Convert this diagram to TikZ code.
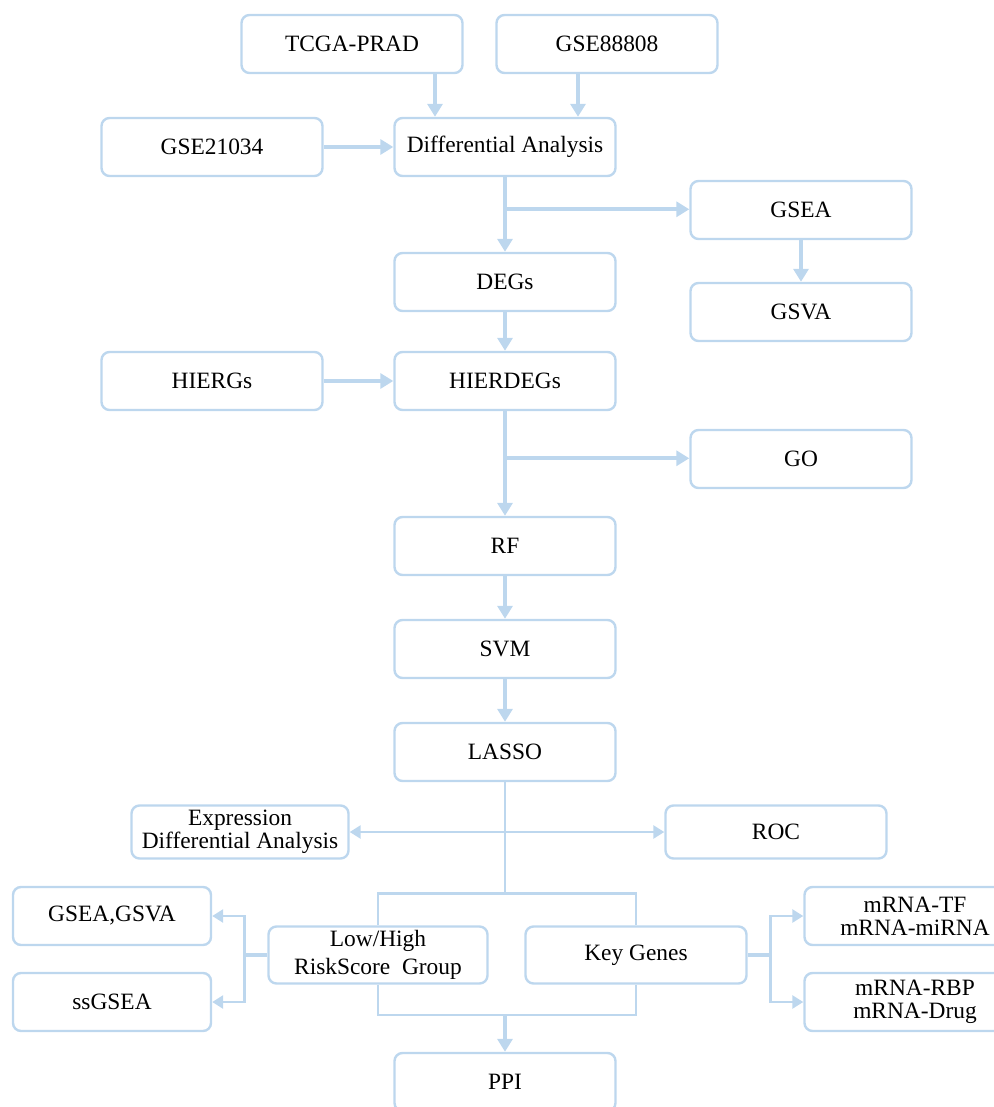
\documentclass[tikz,border=0pt]{standalone}
\usepackage{fontspec}
\setmainfont{Liberation Serif}
\usetikzlibrary{arrows.meta,positioning,calc}
\definecolor{flowblue}{RGB}{189,215,238}
\tikzstyle{block} = [rectangle, draw=flowblue, line width=1.2pt, fill=white, rounded corners=4pt, align=center, minimum width=110.5pt, minimum height=29pt, inner sep=1pt, font=\fontsize{11.7}{11.5}\selectfont]
\tikzstyle{arr} = [draw=flowblue, line width=2pt, -{Triangle[length=6.5pt,width=7.5pt]}]
\tikzstyle{thinarr} = [draw=flowblue, line width=1.3pt, -{Triangle[length=5.5pt,width=6.5pt]}]
\tikzstyle{link} = [draw=flowblue, line width=1.3pt]

\begin{document}
\begin{tikzpicture}[x=0.5pt, y=-0.5pt, >=Triangle]
    \useasboundingbox (0,0) rectangle (994,1107);
    % inputs
    \node[block] (tcga) at (352,44) {TCGA-PRAD};
    \node[block] (gseB) at (607,44) {GSE88808};
    \node[block] (gseA) at (212,147) {GSE21034};
    \node[block] (diff) at (505,147) {Differential Analysis};
    % enrichment
    \node[block] (gsea) at (801,210) {GSEA};
    \node[block] (degs) at (505,282) {DEGs};
    \node[block] (gsva) at (801,312) {GSVA};
    \node[block] (hiergs) at (212,381) {HIERGs};
    \node[block] (hierdegs) at (505,381) {HIERDEGs};
    \node[block] (go) at (801,459) {GO};
    % feature selection
    \node[block] (rf) at (505,546) {RF};
    \node[block] (svm) at (505,649) {SVM};
    \node[block] (lasso) at (505,752) {LASSO};
    \node[block, minimum width=108.5pt, minimum height=26.5pt] (expr) at (240,832) {Expression\\Differential Analysis};
    \node[block, minimum height=26.5pt] (roc) at (776,832) {ROC};
    % groups
    \node[block, minimum width=109.5pt, minimum height=28.5pt, font=\fontsize{11.7}{14}\selectfont] (risk) at (378,955) {Low/High\\RiskScore\ \ Group};
    \node[block, minimum height=28.5pt] (key) at (636,955) {Key Genes};
    \node[block, minimum width=99pt] (gseagsva) at (112,916) {GSEA,GSVA};
    \node[block, minimum width=99pt] (ssgsea) at (112,1002) {ssGSEA};
    \node[block] (mtf) at (915,916) {mRNA-TF\\mRNA-miRNA};
    \node[block] (mrbp) at (915,1002) {mRNA-RBP\\mRNA-Drug};
    \node[block] (ppi) at (505,1082) {PPI};

    \coordinate (tcgaIn) at ($(diff.north)+(-70,0)$);
    \coordinate (gseIn) at ($(diff.north)+(73,0)$);
    \draw[arr] (tcga.south -| tcgaIn) -- (tcgaIn);
    \draw[arr] (gseB.south -| gseIn) -- (gseIn);
    \draw[arr] (gseA) -- (diff);
    \draw[arr] (diff) -- (degs);
    \coordinate (br1) at ($(diff.south)!0.43!(degs.north)$);
    \draw[arr] (br1) -- (br1 -| gsea.west);
    \draw[arr] (gsea) -- (gsva);
    \draw[arr] (degs) -- (hierdegs);
    \draw[arr] (hiergs) -- (hierdegs);
    \draw[arr] (hierdegs) -- (rf);
    \coordinate (br2) at ($(hierdegs.south)!0.45!(rf.north)$);
    \draw[arr] (br2) -- (br2 -| go.west);
    \draw[arr] (rf) -- (svm);
    \draw[arr] (svm) -- (lasso);

    \coordinate (split) at ($(lasso.south)+(0,111)$);
    \draw[link] (lasso) -- (split);
    \draw[thinarr, {Triangle[length=5.5pt,width=6.5pt]}-{Triangle[length=5.5pt,width=6.5pt]}] (expr) -- (roc);
    \draw[link] (risk.north) |- (split) -| (key.north);
    \coordinate (join) at ($(ppi.north)+(0,-37)$);
    \draw[link] (risk.south) |- (join) -| (key.south);
    \draw[arr] (join) -- (ppi);

    \coordinate (lb) at ($(risk.west)+(-23,0)$);
    \draw[link, line width=1.8pt] (risk.west) -- (lb);
    \draw[thinarr] (lb) |- (gseagsva.east);
    \draw[thinarr] (lb) |- (ssgsea.east);
    \coordinate (rb) at ($(key.east)+(23,0)$);
    \draw[link, line width=1.8pt] (key.east) -- (rb);
    \draw[thinarr] (rb) |- (mtf.west);
    \draw[thinarr] (rb) |- (mrbp.west);
\end{tikzpicture}
\end{document}
